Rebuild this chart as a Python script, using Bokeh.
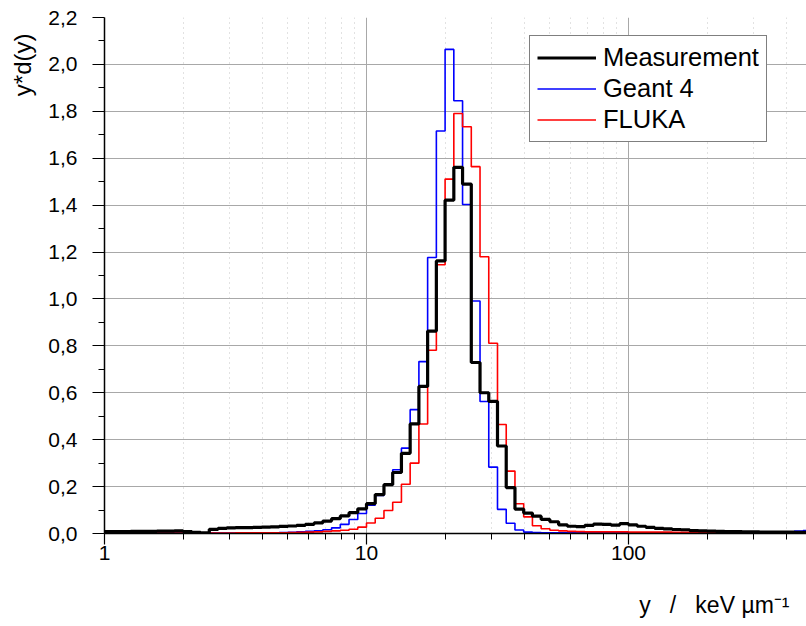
import numpy as np
from bokeh.plotting import figure
from bokeh.models import (Range1d, FixedTicker, CustomJSTickFormatter, Title,
                          Legend, LegendItem, LogAxis)
from bokeh.embed import file_html
from bokeh.resources import INLINE

# ---------------- data ----------------
BINS_PER_DECADE = 30          # logarithmic binning, bin k spans 10^(k/30) .. 10^((k+1)/30)

measurement = [
    0.008, 0.008, 0.008, 0.009, 0.009, 0.009, 0.010, 0.010, 0.011, 0.008,
    0.005, 0.003, 0.018, 0.022, 0.024, 0.025, 0.025, 0.026, 0.027, 0.028,
    0.030, 0.032, 0.035, 0.039, 0.045, 0.053, 0.063, 0.075, 0.089, 0.105,
    0.127, 0.166, 0.208, 0.260, 0.342, 0.467, 0.627, 0.863, 1.162, 1.421,
    1.561, 1.490, 0.729, 0.600, 0.563, 0.373, 0.196, 0.104, 0.087, 0.074,
    0.060, 0.050, 0.037, 0.031, 0.029, 0.035, 0.040, 0.039, 0.036, 0.042,
    0.037, 0.031, 0.026, 0.022, 0.020, 0.017, 0.016, 0.012, 0.011, 0.010,
    0.009, 0.008, 0.008, 0.007, 0.007, 0.006, 0.006, 0.006, 0.006, 0.005, 0.005,
]

geant4 = [
    0.002, 0.002, 0.002, 0.002, 0.002, 0.002, 0.002, 0.002, 0.002, 0.002,
    0.002, 0.002, 0.002, 0.002, 0.002, 0.003, 0.003, 0.003, 0.003, 0.003,
    0.004, 0.005, 0.007, 0.009, 0.012, 0.016, 0.024, 0.039, 0.060, 0.085,
    0.121, 0.162, 0.207, 0.272, 0.364, 0.528, 0.733, 1.177, 1.716, 2.064,
    1.845, 1.403, 0.991, 0.563, 0.283, 0.103, 0.044, 0.015, 0.006, 0.004,
    0.003, 0.003, 0.003, 0.003, 0.003, 0.003, 0.003, 0.003, 0.003, 0.003,
    0.003, 0.003, 0.003, 0.003, 0.003, 0.003, 0.003, 0.003, 0.003, 0.003,
    0.003, 0.003, 0.003, 0.003, 0.003, 0.003, 0.003, 0.004, 0.006, 0.010, 0.013,
]

fluka = [
    0.002, 0.002, 0.002, 0.002, 0.002, 0.002, 0.002, 0.002, 0.002, 0.002,
    0.002, 0.002, 0.002, 0.002, 0.002, 0.003, 0.003, 0.003, 0.003, 0.003,
    0.003, 0.004, 0.005, 0.006, 0.007, 0.009, 0.011, 0.014, 0.018, 0.027,
    0.045, 0.065, 0.098, 0.133, 0.210, 0.300, 0.467, 0.781, 1.146, 1.511,
    1.791, 1.734, 1.564, 1.180, 0.811, 0.465, 0.266, 0.127, 0.071, 0.033,
    0.020, 0.014, 0.011, 0.009, 0.008, 0.007, 0.007, 0.007, 0.007, 0.007,
    0.006, 0.006, 0.006, 0.006, 0.006, 0.005, 0.005, 0.005, 0.005, 0.005,
    0.004, 0.004, 0.004, 0.004, 0.004, 0.004, 0.004, 0.004, 0.004, 0.004, 0.004,
]

series_names = ["Measurement", "Geant 4", "FLUKA"]
x_ticks = [1, 10, 100]
x_tick_labels = ["1", "10", "100"]
x_minor_ticks = [2, 3, 4, 5, 6, 7, 8, 9, 20, 30, 40, 50, 60, 70, 80, 90, 200, 300, 400]
y_ticks = [0.0, 0.2, 0.4, 0.6, 0.8, 1.0, 1.2, 1.4, 1.6, 1.8, 2.0, 2.2]
y_tick_labels = ["0,0", "0,2", "0,4", "0,6", "0,8", "1,0", "1,2", "1,4", "1,6", "1,8", "2,0", "2,2"]
y_minor_ticks = [0.1, 0.3, 0.5, 0.7, 0.9, 1.1, 1.3, 1.5, 1.7, 1.9, 2.1]
NB = "\u00a0"
x_title = "y" + NB * 3 + "/" + NB * 3 + "keV" + NB + "\u00b5m\u207b\u00b9"
y_title = "y*d(y)"

# ---------------- figure ----------------
FONT = "Liberation Sans"
p = figure(width=806, height=626, x_axis_type="log",
           x_range=Range1d(1, 478), y_range=Range1d(0, 2.2),
           output_backend="svg", toolbar_location=None,
           min_border_left=104, min_border_right=0, min_border_top=17, min_border_bottom=93)
p.outline_line_color = None
p.background_fill_color = "white"

# axes
p.xaxis.ticker = FixedTicker(ticks=x_ticks, minor_ticks=x_minor_ticks)
p.yaxis.ticker = FixedTicker(ticks=y_ticks, minor_ticks=y_minor_ticks)
p.xaxis.formatter = CustomJSTickFormatter(args=dict(vals=x_ticks, labels=x_tick_labels), code="""
    let best = 0;
    for (let i = 0; i < vals.length; i++) {
        if (Math.abs(Math.log10(vals[i]) - Math.log10(tick)) < Math.abs(Math.log10(vals[best]) - Math.log10(tick))) best = i;
    }
    return labels[best];
""")
p.yaxis.formatter = CustomJSTickFormatter(args=dict(vals=y_ticks, labels=y_tick_labels), code="""
    let best = 0;
    for (let i = 0; i < vals.length; i++) {
        if (Math.abs(vals[i] - tick) < Math.abs(vals[best] - tick)) best = i;
    }
    return labels[best];
""")
for ax in (p.xaxis[0], p.yaxis[0]):
    ax.axis_line_color = "black"
    ax.axis_line_width = 1.5
    ax.major_tick_line_color = "black"
    ax.minor_tick_line_color = "black"
    ax.major_tick_line_width = 1.2
    ax.minor_tick_line_width = 1
    ax.major_tick_in = 0
    ax.minor_tick_in = 0
    ax.major_label_text_font = FONT
    ax.major_label_text_color = "black"
p.xaxis.major_label_text_font_size = "21px"
p.yaxis.major_label_text_font_size = "21px"
p.xaxis.major_tick_out = 11
p.xaxis.minor_tick_out = 6
p.xaxis.major_label_standoff = 1
p.yaxis.major_tick_out = 12
p.yaxis.minor_tick_out = 6
p.yaxis.major_label_standoff = 15

# grids
p.xgrid.grid_line_color = "#a8a8a8"
p.ygrid.grid_line_color = "#a8a8a8"
p.xgrid.grid_line_width = 1
p.ygrid.grid_line_width = 1
p.xgrid.minor_grid_line_color = "#c4c4c4"
p.xgrid.minor_grid_line_dash = "1 4"

# histogram steps
edges = 10 ** (np.arange(len(measurement) + 1) / BINS_PER_DECADE)
renderers = []
for vals, color, lw in ((geant4, "#0000ff", 1.6), (fluka, "#ff0000", 1.6), (measurement, "#000000", 3.2)):
    yv = list(vals) + [vals[-1]]
    r = p.step(edges, yv, mode="after", line_color=color, line_width=lw)
    renderers.append(r)

legend = Legend(items=[
    LegendItem(label=series_names[0], renderers=[renderers[2]]),
    LegendItem(label=series_names[1], renderers=[renderers[0]]),
    LegendItem(label=series_names[2], renderers=[renderers[1]]),
], location=(425, 391))
legend.label_text_font = FONT
legend.label_text_font_size = "25.5px"
legend.label_text_color = "black"
legend.glyph_width = 59
legend.glyph_height = 27
legend.label_height = 27
legend.label_standoff = 7
legend.spacing = 2
legend.padding = 7
legend.margin = 0
legend.border_line_color = "black"
legend.border_line_width = 1.5
legend.background_fill_alpha = 1
p.add_layout(legend, "center")

# x title: an invisible second bottom axis; its centred label is shifted to the lower right
# by leading no-break spaces (layout only)
title_axis = LogAxis(ticker=FixedTicker(ticks=[]),
                     axis_line_color=None, major_tick_line_color=None, minor_tick_line_color=None,
                     major_tick_out=0, minor_tick_out=0, major_label_standoff=0,
                     major_label_text_font_size="0px",
                     axis_label=NB * 81 + x_title, axis_label_standoff=29,
                     axis_label_text_font=FONT, axis_label_text_font_size="23px",
                     axis_label_text_font_style="normal", axis_label_text_color="black")
p.add_layout(title_axis, "below")

# y title at the top left
yt = Title(text=y_title, align="right", vertical_align="top", offset=16, standoff=16,
           text_font=FONT, text_font_size="24px", text_font_style="normal", text_color="black")
p.add_layout(yt, "left")

open("out.html", "w").write(file_html(p, INLINE))
